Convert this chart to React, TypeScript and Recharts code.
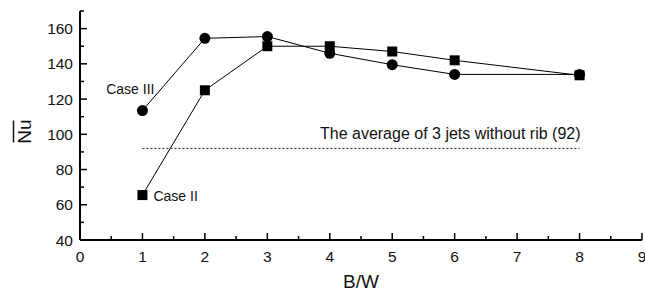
import { LineChart, Line, XAxis, YAxis, ReferenceLine } from "recharts";

// B/W ratio on the x axis
const bw = [1, 2, 3, 4, 5, 6, 8];
// averaged Nusselt number per case
const caseII = [65.5, 125, 150, 150, 147, 142, 133.5];
const caseIII = [113.5, 154.5, 155.5, 146, 139.5, 134, 134];
const jetsAverage = 92;

const xTicks = [0, 0.5, 1, 1.5, 2, 2.5, 3, 3.5, 4, 4.5, 5, 5.5, 6, 6.5, 7, 7.5, 8, 8.5, 9];
const yTicks = [40, 50, 60, 70, 80, 90, 100, 110, 120, 130, 140, 150, 160, 170];

const data = bw.map((b, i) => ({ bw: b, caseII: caseII[i], caseIII: caseIII[i] }));

const FONT = "'Liberation Sans', Arial, sans-serif";
const frame = { stroke: "#000", strokeWidth: 2 };

const isMajorX = (v: number) => Number.isInteger(v);
const isMajorY = (v: number) => v % 20 === 0;

const bottomTick = ({ x, y, payload }: any) => {
  const major = isMajorX(payload.value);
  return (
    <g>
      <line x1={x} x2={x} y1={y} y2={y - (major ? 7 : 4)} stroke="#000" strokeWidth={1.5} />
      {major && (
        <text x={x} y={y + 10.5} dy="0.71em" textAnchor="middle" fontSize={15.5} fontFamily={FONT} fill="#111">
          {payload.value}
        </text>
      )}
    </g>
  );
};

const topTick = ({ x, y, payload }: any) => (
  <line x1={x} x2={x} y1={y} y2={y + (isMajorX(payload.value) ? 7 : 4)} stroke="#000" strokeWidth={1.5} />
);

const leftTick = ({ x, y, payload }: any) => {
  const major = isMajorY(payload.value);
  return (
    <g>
      <line x1={x} x2={x + (major ? 7 : 4)} y1={y} y2={y} stroke="#000" strokeWidth={1.5} />
      {major && (
        <text x={x - 7} y={y} dy="0.36em" textAnchor="end" fontSize={15.5} fontFamily={FONT} fill="#111">
          {payload.value}
        </text>
      )}
    </g>
  );
};

const rightTick = ({ x, y, payload }: any) => (
  <line x1={x} x2={x - (isMajorY(payload.value) ? 7 : 4)} y1={y} y2={y} stroke="#000" strokeWidth={1.5} />
);

const circleDot = (p: any) => <circle key={p.index} cx={p.cx} cy={p.cy} r={5.5} fill="#000" />;
const squareDot = (p: any) => <rect key={p.index} x={p.cx - 5} y={p.cy - 5} width={10} height={10} fill="#000" />;

const caseIIILabel = (p: any) =>
  p.index === 0 ? (
    <text x={p.x + 12} y={p.y - 22} dy="0.36em" textAnchor="end" fontSize={14} fontFamily={FONT} fill="#111">
      Case III
    </text>
  ) : null;

const caseIILabel = (p: any) =>
  p.index === 0 ? (
    <text x={p.x + 11} y={p.y + 1} dy="0.36em" textAnchor="start" fontSize={14} fontFamily={FONT} fill="#111">
      Case II
    </text>
  ) : null;

const nuLabel = ({ viewBox }: any) => {
  const cy = viewBox.y + viewBox.height / 2 + 6;
  return (
    <g>
      <text
        x={31}
        y={cy}
        transform={`rotate(-90 31 ${cy})`}
        textAnchor="middle"
        fontSize={19}
        fontFamily={FONT}
        fill="#111"
      >
        Nu
      </text>
      <line x1={13.5} x2={13.5} y1={cy - 11} y2={cy + 11} stroke="#111" strokeWidth={1.5} />
    </g>
  );
};

const bwLabel = ({ viewBox }: any) => (
  <text
    x={viewBox.x + viewBox.width / 2}
    y={281.5}
    dy="0.36em"
    textAnchor="middle"
    fontSize={19}
    fontFamily={FONT}
    fill="#111"
  >
    B/W
  </text>
);

const avgLabel = ({ viewBox }: any) => (
  <text
    x={viewBox.x + viewBox.width + 1}
    y={viewBox.y - 15.5}
    dy="0.36em"
    textAnchor="end"
    fontSize={16}
    fontFamily={FONT}
    fill="#111"
  >
    The average of 3 jets without rib ({jetsAverage})
  </text>
);

export default function App() {
  return (
    <div style={{ position: "absolute", left: 0, top: 0, background: "#fff" }}>
      <LineChart width={645} height={291} data={data} margin={{ top: 11, right: 3, bottom: 0, left: 0 }}>
        <XAxis
          xAxisId="top"
          orientation="top"
          type="number"
          dataKey="bw"
          domain={[0, 9]}
          ticks={xTicks}
          interval={0}
          height={0}
          tickSize={0}
          tickMargin={0}
          tickLine={false}
          axisLine={frame}
          tick={topTick}
        />
        <XAxis
          xAxisId="b"
          type="number"
          dataKey="bw"
          domain={[0, 9]}
          ticks={xTicks}
          interval={0}
          height={51}
          tickSize={0}
          tickMargin={0}
          tickLine={false}
          axisLine={frame}
          tick={bottomTick}
          label={bwLabel}
        />
        <YAxis
          yAxisId="l"
          type="number"
          domain={[40, 170]}
          ticks={yTicks}
          interval={0}
          width={80}
          tickSize={0}
          tickMargin={0}
          tickLine={false}
          axisLine={frame}
          tick={leftTick}
          label={nuLabel}
        />
        <YAxis
          yAxisId="r"
          orientation="right"
          type="number"
          domain={[40, 170]}
          ticks={yTicks}
          interval={0}
          width={0}
          tickSize={0}
          tickMargin={0}
          tickLine={false}
          axisLine={frame}
          tick={rightTick}
        />
        <ReferenceLine
          xAxisId="b"
          yAxisId="l"
          segment={[
            { x: 1, y: jetsAverage },
            { x: 8, y: jetsAverage },
          ]}
          stroke="#222"
          strokeWidth={1}
          strokeDasharray="2 2"
          label={avgLabel}
        />
        <Line
          xAxisId="b"
          yAxisId="l"
          dataKey="caseIII"
          stroke="#000"
          strokeWidth={1}
          dot={circleDot}
          activeDot={false}
          label={caseIIILabel}
          isAnimationActive={false}
        />
        <Line
          xAxisId="b"
          yAxisId="l"
          dataKey="caseII"
          stroke="#000"
          strokeWidth={1}
          dot={squareDot}
          activeDot={false}
          label={caseIILabel}
          isAnimationActive={false}
        />
      </LineChart>
    </div>
  );
}
